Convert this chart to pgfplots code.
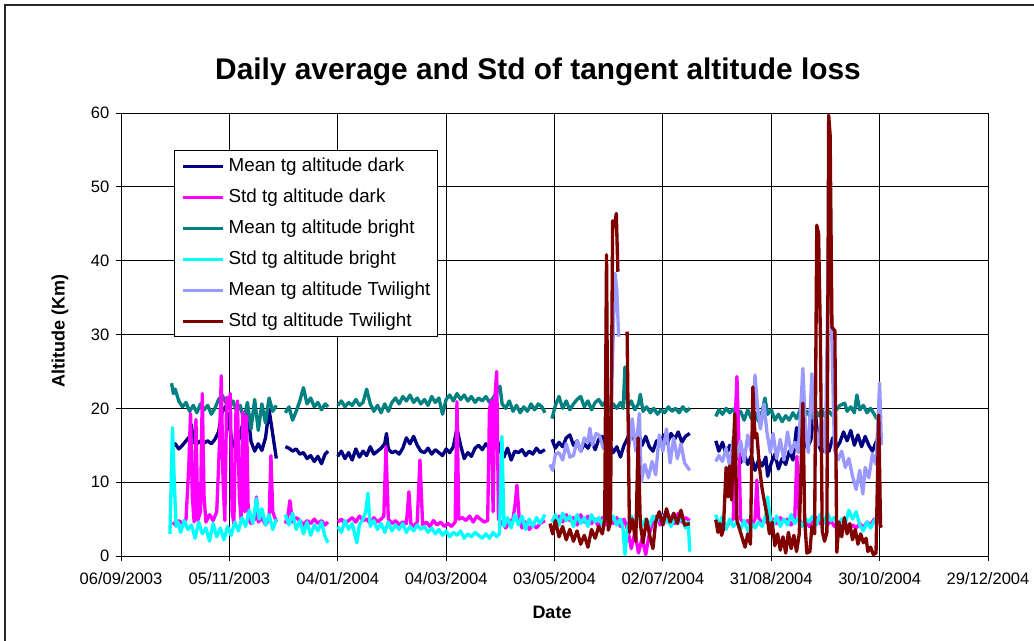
\documentclass[border=0pt]{standalone}
\usepackage{pgfplots}
\pgfplotsset{compat=1.18}
\usepackage{fontspec}
\setmainfont{Liberation Sans}
\definecolor{cNavy}{HTML}{000080}
\definecolor{cMag}{HTML}{FF00FF}
\definecolor{cTeal}{HTML}{008080}
\definecolor{cCyan}{HTML}{00FFFF}
\definecolor{cLav}{HTML}{9999FF}
\definecolor{cRed}{HTML}{800000}
\begin{document}
\begin{tikzpicture}
\useasboundingbox (0,0) rectangle (775.5pt,480pt);
\draw[black!85, line width=1.1pt] (3.75pt,476.25pt) rectangle (820pt,-30pt);
\node[anchor=base, font=\fontsize{22.4}{26}\selectfont\bfseries] at (403.5pt,420pt) {Daily average and Std of tangent altitude loss};
\node[rotate=90, font=\fontsize{13.5}{16}\selectfont\bfseries] at (45pt,231.75pt) {Altitude (Km)};
\node[font=\fontsize{13.5}{16}\selectfont\bfseries] at (414pt,21pt) {Date};
\begin{axis}[
  at={(90.75pt,63pt)}, anchor=south west,
  width=650.25pt, height=332.25pt, scale only axis,
  xmin=0, xmax=480, ymin=0, ymax=60,
  xtick={0,60,...,480},
  xticklabels={06/09/2003,05/11/2003,04/01/2004,04/03/2004,03/05/2004,02/07/2004,31/08/2004,30/10/2004,29/12/2004},
  ytick={0,10,...,60},
  grid=major, major grid style={black, line width=0.6pt},
  axis line style={black, line width=0.75pt},
  tick style={black, line width=0.75pt},
  tick align=outside, major tick length=3.75pt,
  xtick pos=bottom, ytick pos=left,
  ticklabel style={font=\fontsize{12.4}{14}\selectfont},
  xticklabel style={yshift=-5.25pt},
  yticklabel style={xshift=-1.5pt},
  /pgf/number format/assume math mode=true,
  unbounded coords=jump,
  legend style={at={(0.0611,0.9165)}, anchor=north west, draw=black, line width=0.75pt, fill=white,
    inner xsep=5.25pt, inner ysep=4.9pt, font=\fontsize{14.1}{16}\selectfont,
    nodes={inner sep=0pt, text height=10.5pt, text depth=3pt}, row sep=9.75pt, column sep=3pt},
  legend cell align=left,
  legend image code/.code={\draw[#1, line width=2.4pt] (0pt,-0.5pt) -- (30pt,-0.5pt);},
  every axis plot/.append style={line width=2.5pt, line join=round},
]
\addlegendimage{cNavy}\addlegendentry{Mean tg altitude dark}
\addlegendimage{cMag}\addlegendentry{Std tg altitude dark}
\addlegendimage{cTeal}\addlegendentry{Mean tg altitude bright}
\addlegendimage{cCyan}\addlegendentry{Std tg altitude bright}
\addlegendimage{cLav}\addlegendentry{Mean tg altitude Twilight}
\addlegendimage{cRed}\addlegendentry{Std tg altitude Twilight}

% Mean tg altitude dark
\addplot[cNavy, forget plot] coordinates {
(28,14.8)(30,15.2)(32,14.5)(34,15.0)(36,15.6)(38,16.2)(39,17.8)(40,15.4)(42,15.2)(44,15.6)(46,15.3)(48,15.6)(50,15.2)(52,15.8)(54,16.8)(56,19.5)(58,20.3)(60,17.5)(62,15.0)(64,14.6)(66,16.5)(68,18.5)(70,19.8)(72,15.5)(74,14.2)(76,15.2)(78,14.3)(80,16.0)(82,19.8)(84,16.5)(86,13.2)(88,nan)
(91,14.8)(93,14.6)(95,14.2)(97,14.5)(99,13.8)(101,14.0)(103,13.2)(105,13.6)(107,12.8)(109,13.5)(111,12.5)(113,13.8)(114.6,14.2)(117,nan)
(120,13.5)(122,14.2)(124,13.2)(126,14.0)(128,13.0)(130,14.5)(132,13.4)(134,14.2)(136,13.6)(138,14.8)(140,13.8)(142,14.2)(144,14.6)(146,15.2)(147,16.6)(148,14.5)(150,14.0)(152,14.2)(154,13.8)(156,14.6)(158,16.0)(160,15.2)(162,16.2)(164,15.0)(166,14.2)(168,14.0)(170,14.6)(172,13.8)(174,14.4)(176,14.0)(178,13.6)(180,14.5)(182,14.0)(184,14.8)(186,17.3)(188,15.0)(190,13.2)(192,14.0)(194,13.5)(196,14.6)(198,15.0)(200,14.4)(202,15.2)(204,14.6)(206,15.0)(208,16.0)(210,14.2)(212,13.4)(214,14.6)(216,13.0)(218,14.2)(220,14.0)(222,14.4)(224,13.6)(226,14.2)(228,13.8)(230,14.6)(232,14.0)(234.7,14.4)(236.5,nan)
(238.6,15.8)(240.5,14.6)(242.5,15.4)(244.5,14.8)(246.5,16.0)(248.5,16.4)(250.5,15.0)(252.5,15.6)(254.5,14.2)(256.5,15.2)(258.5,14.6)(260.5,15.6)(262.5,14.4)(264.5,15.8)(266.5,16.2)(268.5,14.8)(270.5,15.2)(272.5,14.0)(274.5,14.8)(276.5,13.4)(278.5,15.0)(280.5,16.0)(282.5,17.2)(284.5,15.4)(286.5,16.6)(288.5,15.0)(290.5,16.2)(292.5,14.8)(294.5,14.2)(296.5,15.6)(298.5,15.0)(300.5,16.4)(302.5,15.2)(304.5,16.6)(306.5,15.8)(308.5,16.8)(310.5,15.4)(312.5,16.2)(314.9,16.6)(320,nan)
(329.3,15.6)(331,14.2)(333,15.4)(335,13.8)(337,15.0)(339,13.2)(341,14.0)(343,12.6)(345,13.8)(347,12.4)(349,13.6)(351,11.6)(353,13.0)(355,12.2)(357,13.4)(358,10.8)(360,12.6)(362,13.8)(364,11.8)(366,13.2)(368,12.4)(370,14.2)(372,13.0)(374,17.4)(376,15.0)(378,16.2)(380,14.6)(382,15.8)(384,20.8)(386,15.2)(388,14.0)(390,15.6)(392,14.2)(394,16.0)(396,14.6)(398,15.4)(400,16.8)(402,15.6)(404,17.0)(406,15.0)(408,16.4)(410,14.8)(412,16.2)(414,15.0)(416,14.2)(418,15.4)(420,16.6)
};

% Mean tg altitude bright
\addplot[cTeal, forget plot] coordinates {
(28,23.4)(29,22.0)(30,22.6)(32,21.0)(34,20.2)(36,20.8)(38,19.6)(40,20.4)(42,19.4)(44,20.6)(46,19.8)(48,20.4)(50,19.2)(52,20.0)(54,21.2)(56,21.8)(58,20.8)(60,20.2)(62,21.0)(64,19.6)(66,20.4)(68,18.4)(70,20.8)(72,17.2)(74,21.2)(76,17.0)(78,20.6)(80,18.0)(82,21.4)(84,19.6)(86,20.4)(88,nan)
(91,19.4)(93,20.2)(95,18.4)(97,19.6)(99,21.0)(101,22.8)(103,20.6)(105,21.4)(107,20.2)(109,20.8)(111,19.8)(113,20.6)(114.6,20.2)(117,nan)
(120,20.4)(122,21.0)(124,20.2)(126,20.8)(128,20.4)(130,21.2)(132,20.4)(134,20.8)(136,22.6)(138,20.6)(140,19.6)(142,20.4)(144,19.4)(146,20.6)(148,19.6)(150,20.8)(152,21.4)(154,20.6)(156,21.6)(158,21.0)(160,21.8)(162,20.8)(164,21.4)(166,20.6)(168,21.2)(170,20.4)(172,21.6)(174,20.8)(176,21.4)(178,19.2)(180,21.2)(182,21.8)(184,21.0)(186,22.0)(188,21.2)(190,21.8)(192,21.0)(194,21.6)(196,20.8)(198,21.4)(200,21.0)(202,21.6)(204,20.8)(206,21.4)(208,22.2)(209.8,23.0)(211,20.6)(213,20.0)(215,21.0)(217,19.6)(219,20.4)(221,19.4)(223,20.2)(225,19.6)(227,20.6)(229,19.8)(231,20.6)(233,20.2)(234.7,19.4)(236.5,nan)
(238.6,18.6)(240.5,20.4)(242.5,21.6)(244.5,20.0)(246.5,21.0)(248.5,19.8)(250.5,20.6)(252.5,21.2)(254.5,21.6)(256.5,20.2)(258.5,21.0)(260.5,19.8)(262.5,20.8)(264.5,21.2)(266.5,20.4)(268.5,21.0)(270.5,19.6)(272.5,20.6)(274.5,20.0)(276.5,20.8)(278,20.0)(279,25.6)(280.5,20.2)(282.5,21.0)(284.5,19.8)(286.5,20.6)(287.5,21.9)(289,19.6)(291,20.2)(293,19.4)(295,20.0)(297,19.2)(299,19.8)(301,19.4)(303,20.2)(305,19.6)(307,20.0)(309,19.4)(311,20.2)(313,19.6)(314.9,20.0)(320,nan)
(329.3,18.9)(331,19.8)(333,19.2)(335,20.0)(337,19.4)(339,19.9)(341,19.1)(343,19.6)(345,18.4)(347,19.8)(349,18.6)(351,19.4)(353,18.2)(355,19.6)(356.5,21.4)(358,19.2)(360,19.8)(362,18.4)(364,19.2)(366,18.2)(368,19.0)(370,18.4)(372,19.4)(374,18.6)(376,19.8)(378,18.8)(380,19.6)(382,18.6)(384,20.0)(386,19.0)(388,19.8)(390,18.8)(392,19.6)(394,19.0)(396,19.8)(398,20.4)(400.7,20.7)(402,19.6)(404,20.2)(406,19.4)(407.4,21.8)(409,19.8)(411,20.4)(413,19.4)(415,20.0)(417,19.2)(418.4,18.6)(420,18.8)
};

% Std tg altitude dark
\addplot[cMag, forget plot] coordinates {
(28.8,4.6)(30,4.2)(32,4.8)(34,4.4)(36,5.0)(37.5,12.0)(38.5,19.3)(39.5,8.0)(40.5,4.6)(41.5,18.5)(42.5,4.8)(44,6.0)(45,22.0)(46,8.0)(47,4.6)(49,5.6)(51,4.8)(53,6.0)(54.5,15.0)(55.5,24.4)(56.5,10.0)(57.5,4.8)(58.5,21.5)(59.5,20.0)(60.5,22.0)(61.5,6.0)(62.5,4.4)(63.5,19.0)(64.5,21.0)(65.5,8.0)(66.5,5.0)(67.5,19.5)(68.5,6.0)(69.5,19.0)(70.5,5.0)(72,4.4)(74,5.0)(75,8.0)(76,4.6)(78,5.2)(80,4.2)(82,5.0)(83,13.6)(84,6.0)(86,4.6)(88,nan)
(91,4.4)(92.5,5.6)(93.5,7.5)(95,4.6)(97,5.2)(99,4.8)(101,4.2)(103,4.8)(105,4.4)(107,5.0)(109,4.4)(111,4.8)(113,4.2)(114.6,4.6)(117,nan)
(120,4.6)(122,5.0)(124,4.4)(126,4.8)(128,5.2)(130,4.6)(132,5.4)(134,4.8)(136,5.0)(138,4.4)(140,5.2)(142,4.6)(144,5.0)(145.5,5.4)(146.7,14.8)(148,5.0)(150,4.4)(152,4.8)(154,4.2)(156,4.6)(158,4.4)(159.4,8.7)(160.5,4.4)(162,4.0)(164,4.6)(165.5,13.0)(167,4.2)(169,4.6)(171,4.0)(173,4.8)(175,4.2)(177,4.6)(179,4.0)(181,4.4)(183,4.0)(185,4.6)(186,20.9)(187,5.0)(189,5.2)(191,4.8)(193,5.4)(195,4.6)(197,5.4)(199,5.0)(201,4.6)(203,4.8)(204,20.0)(205,21.0)(206,6.0)(207,21.5)(208,25.0)(209,5.0)(211,4.4)(213,3.8)(215,4.6)(217,5.0)(218.2,7.0)(219.2,9.6)(220.5,5.0)(222,3.8)(224,4.6)(226,3.6)(228,4.2)(230,3.8)(232,4.4)(234.7,4.8)(236.5,nan)
(238.6,5.0)(240.5,4.4)(242.5,5.4)(244.5,4.6)(246.5,5.6)(248.5,4.8)(250.5,5.2)(252.5,4.2)(254.5,5.6)(256.5,4.6)(258.5,5.4)(260.5,4.4)(262.5,5.0)(264.5,3.8)(266.5,5.2)(268.5,4.2)(270.5,5.0)(272.5,4.4)(274.5,5.2)(276.5,4.0)(278.5,5.0)(280.5,3.6)(282.5,1.0)(284.5,3.2)(286.5,0.4)(288.5,2.4)(290.5,0.2)(292.5,3.0)(294.5,4.6)(296.5,5.4)(298.5,4.2)(300.5,5.6)(302.5,4.6)(304.5,5.2)(306.5,4.4)(308.5,5.8)(310.5,4.6)(312.5,5.2)(314.9,4.8)(320,nan)
(329.3,5.0)(331,4.2)(333,4.8)(335,3.8)(337,4.6)(339,5.0)(340,18.0)(341,24.3)(342,16.0)(343,5.0)(345,4.4)(347,4.8)(349,4.0)(351,5.0)(352,10.3)(353,5.2)(355,4.4)(357,4.8)(359,4.2)(361,5.0)(363,4.4)(365,5.2)(367,4.6)(369,5.0)(371,4.2)(373,5.0)(374.2,13.5)(375.5,5.0)(377,4.2)(379,4.8)(381,4.0)(383,4.6)(385,5.2)(387,4.4)(389,5.0)(391,4.2)(393,4.8)(395,4.0)(397,4.6)(399,3.8)(401,4.4)(403,3.6)(405,4.2)(407,3.8)(409,4.4)(411,3.8)(413,4.6)(415,4.2)(417,5.0)(419,4.6)(420,4.8)
};

% Std tg altitude bright
\addplot[cCyan, forget plot] coordinates {
(27.1,3.0)(28.5,17.4)(29.5,10.0)(30.5,4.0)(31.5,4.6)(33,3.2)(35,4.8)(37,3.6)(39,4.2)(41,2.4)(43,4.6)(45,3.0)(47,3.8)(49,2.0)(51,4.4)(53,2.6)(55,3.8)(57,2.2)(59,4.0)(61,2.8)(63,4.6)(65,3.4)(67,5.2)(69,4.0)(71,6.2)(73,4.4)(75,7.8)(76.5,5.0)(78,6.4)(80,4.2)(82,5.6)(84,3.6)(86,5.0)(88,nan)
(91,5.6)(93,4.2)(95,5.8)(97,3.6)(99,4.8)(101,3.0)(103,4.6)(105,2.8)(107,4.2)(109,3.4)(111,4.6)(113,2.6)(114.6,1.8)(117,nan)
(120,4.0)(122,3.2)(124,4.8)(126,3.6)(128,4.4)(130.6,1.8)(132,4.2)(134,5.0)(135.5,6.0)(136.7,8.5)(138,4.0)(140,4.8)(142,3.6)(144,4.4)(146,3.2)(148,4.6)(150,3.4)(152,4.2)(154,3.6)(156,4.4)(158,3.2)(160,4.0)(162,3.4)(164,4.2)(166,3.6)(168,4.0)(170,3.2)(172,3.8)(174,3.0)(176,3.6)(178,2.8)(180,3.4)(182,2.6)(184,3.2)(186,2.8)(188,3.4)(190,2.4)(192,3.0)(194,2.6)(196,3.2)(198,2.8)(200,2.4)(202,3.0)(204,2.4)(206,3.2)(208,2.6)(209.5,3.0)(210.9,16.2)(212,4.0)(214,5.2)(216,3.8)(218,5.6)(220,4.2)(222,5.4)(224,3.6)(226,5.0)(228,4.0)(230,5.2)(232,4.4)(234.7,5.6)(236.5,nan)
(238.6,4.6)(240.5,5.6)(242.5,4.2)(244.5,5.8)(246.5,4.8)(248.5,5.4)(250.5,4.0)(252.5,5.6)(254.5,4.4)(256.5,5.2)(258.5,4.0)(260.5,5.6)(262.5,4.6)(264.5,5.2)(266.5,4.2)(268.5,5.8)(270.5,4.6)(272.5,5.4)(274.5,4.2)(276.5,5.0)(278,3.6)(279,0.2)(280.5,4.0)(282.5,5.4)(284.5,4.4)(286.5,5.6)(288.5,4.2)(290.5,5.0)(292.5,4.0)(294.5,5.4)(296.5,4.6)(298.5,5.8)(300.5,4.4)(302.5,5.0)(304.5,4.0)(306.5,5.2)(308.5,4.4)(310.5,5.6)(312.5,3.8)(314,4.6)(314.9,0.6)(320,nan)
(329.3,5.6)(331,4.0)(333,5.4)(335,3.6)(337,5.0)(339,4.0)(341,4.6)(343,3.6)(345,4.8)(347,3.4)(349,4.4)(351,3.8)(353,4.6)(355,4.0)(357,5.6)(358,8.0)(359.5,5.0)(361,4.2)(363,5.4)(365,4.0)(367,5.0)(369,4.2)(371,5.6)(373,4.4)(375,5.2)(377,4.0)(379,5.0)(381,4.6)(383,5.4)(385,4.2)(387,5.6)(389,4.4)(391,5.8)(393,4.8)(395,5.2)(397,4.2)(399,5.0)(401,4.4)(403,6.2)(405,5.0)(407,6.0)(409,4.2)(411,3.4)(413,4.6)(415,3.8)(417,4.8)(419,5.4)(420.1,5.8)
};

% Mean tg altitude Twilight
\addplot[cLav, forget plot] coordinates {
(237.5,12.4)(239,11.6)(240.5,13.8)(242.5,14.0)(244.5,13.0)(246.5,15.2)(248.5,13.4)(250.5,13.6)(252.5,15.6)(254.5,14.2)(256.5,16.0)(258.5,15.4)(259.6,17.3)(261,15.0)(263,16.6)(265,16.3)(267,14.6)(269,15.0)(271,16.0)(272.5,30.0)(273.5,38.3)(274.5,36.0)(275.5,29.7)(277.5,nan)
(280.5,14.0)(282,16.0)(283,18.6)(285,14.2)(287,19.3)(288,10.0)(290,12.4)(292,10.6)(294,12.8)(296,11.0)(298,16.4)(300,14.2)(302,17.2)(304,12.6)(306,16.0)(308,13.2)(310,15.2)(312,12.6)(314.9,11.6)(320,nan)
(329.3,12.8)(331,13.6)(333,12.8)(335,14.6)(337,12.2)(339,16.0)(341,13.4)(343,15.6)(345,12.8)(347,16.4)(349,14.0)(351,24.5)(352.5,20.0)(354,17.2)(356,20.6)(357.6,16.8)(359.5,14.0)(361,16.6)(363,13.2)(365,15.8)(367,13.0)(369,16.8)(371,14.0)(373,15.4)(375,14.0)(377.5,25.4)(379,17.0)(380.5,14.0)(382.5,24.7)(384,18.0)(386,15.0)(388,18.6)(390,14.0)(391.5,40.0)(392.5,48.0)(393.5,30.0)(395,14.4)(397,13.0)(399,14.2)(401,12.0)(403,13.2)(405,10.8)(407,9.0)(409,11.6)(410.7,8.4)(412,12.0)(414,10.6)(416,13.8)(418,12.4)(420,23.4)(421,15.0)
};

% Std tg altitude Twilight
\addplot[cRed, forget plot] coordinates {
(237.5,4.4)(239,3.0)(240.5,4.8)(242.5,2.6)(244.5,4.0)(246.5,2.2)(248.5,3.6)(250.5,2.0)(252.5,3.4)(254.5,1.6)(256.5,2.8)(258.5,1.2)(260.5,3.6)(262.5,2.4)(264.5,4.0)(266.5,3.0)(267.8,5.0)(268.8,40.8)(269.8,3.5)(271,4.6)(272.2,45.4)(273.2,44.6)(274.2,46.4)(275.1,38.5)(277.5,nan)
(280.2,30.4)(281.5,3.2)(283,5.0)(285,2.0)(286.3,16.0)(287.5,4.4)(289,1.8)(291,5.0)(293,2.4)(294.5,1.0)(296,4.6)(298,6.0)(300,4.2)(302,6.4)(304,4.6)(306,5.8)(308,4.4)(310,6.2)(312,4.2)(314.9,4.4)(320,nan)
(329.3,4.9)(330.5,3.2)(331.5,4.4)(332.5,2.8)(333.5,3.6)(335,12.0)(336,8.0)(337,12.2)(338,7.6)(339.8,19.3)(341,4.8)(342.5,3.6)(344,2.4)(345.5,1.2)(347,3.0)(348.5,1.6)(349.8,22.9)(351,16.0)(352,16.6)(353.5,12.0)(355,9.0)(356.5,7.0)(357.6,5.6)(359,3.0)(360.5,4.6)(362,1.4)(363.5,3.0)(365,0.8)(366.5,2.6)(368,0.4)(369.5,3.2)(371,1.0)(372.5,2.8)(374,0.6)(375.5,3.0)(377.5,20.7)(378.5,5.0)(379.7,0.4)(381.4,0.6)(382.5,4.0)(384,3.0)(385.2,44.8)(386.2,43.6)(387.2,30.0)(388.2,3.4)(389.5,2.0)(390.8,3.2)(391.8,59.7)(392.6,57.0)(393.6,31.0)(395.2,30.5)(396.3,0.5)(397.5,4.6)(399,2.6)(400.5,5.2)(402,3.0)(403.5,4.4)(405,2.2)(406.5,3.6)(408,1.6)(409.5,3.0)(411,1.8)(412.5,2.4)(413.5,0.6)(415,1.2)(416.5,0.2)(418,0.4)(419.5,19.1)(420.5,4.0)(421.2,4.2)
};
\end{axis}
\end{tikzpicture}
\end{document}
